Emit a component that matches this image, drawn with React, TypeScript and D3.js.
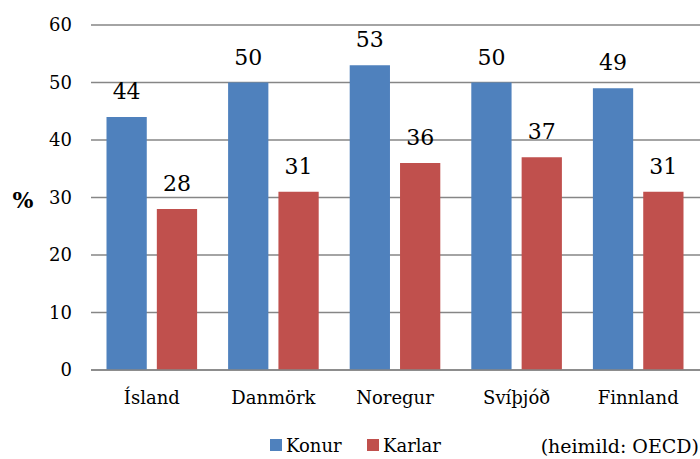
import { useEffect, useRef } from "react";
import * as d3 from "d3";

const countries = ["Ísland", "Danmörk", "Noregur", "Svíþjóð", "Finnland"];
const seriesNames = ["Konur", "Karlar"];
const konur = [44, 50, 53, 50, 49];
const karlar = [28, 31, 36, 37, 31];
const yTicks = [0, 10, 20, 30, 40, 50, 60];
const colors = ["#4F81BD", "#C0504D"];

const W = 700;
const H = 459;
const FONT = "'DejaVu Serif', serif";

export default function App() {
  const svgRef = useRef<SVGSVGElement>(null);

  useEffect(() => {
    const svg = d3.select(svgRef.current);
    svg.selectAll("*").remove();

    const left = 91;
    const right = 699;
    const top = 25;
    const bottom = 370;

    const x0 = d3.scaleBand().domain(countries).range([left, right]);
    const x1 = d3
      .scaleBand()
      .domain(seriesNames)
      .range([15.5, x0.bandwidth() - 15.5])
      .paddingInner(0.2);
    const y = d3.scaleLinear().domain([0, 60]).range([bottom, top]);

    // gridlines
    svg
      .append("g")
      .selectAll("line")
      .data(yTicks)
      .join("line")
      .attr("x1", left)
      .attr("x2", right + 1)
      .attr("y1", (d) => y(d))
      .attr("y2", (d) => y(d))
      .attr("stroke", "#868686")
      .attr("stroke-width", 1.5);

    // y tick labels
    svg
      .append("g")
      .selectAll("text")
      .data(yTicks)
      .join("text")
      .attr("x", 72)
      .attr("y", (d) => y(d))
      .attr("dy", "0.36em")
      .attr("text-anchor", "end")
      .attr("font-family", FONT)
      .attr("font-size", 18)
      .attr("fill", "#000")
      .text((d) => d);

    svg
      .append("text")
      .attr("x", 23)
      .attr("y", 208)
      .attr("text-anchor", "middle")
      .attr("font-family", FONT)
      .attr("font-weight", "bold")
      .attr("font-size", 22)
      .text("%");

    const rows = countries.map((c, i) => ({
      country: c,
      vals: [konur[i], karlar[i]],
    }));

    const groups = svg
      .append("g")
      .selectAll("g")
      .data(rows)
      .join("g")
      .attr("transform", (d) => `translate(${x0(d.country)},0)`);

    groups
      .selectAll("rect")
      .data((d) => d.vals.map((v, j) => ({ key: seriesNames[j], v, j })))
      .join("rect")
      .attr("x", (d) => x1(d.key)!)
      .attr("width", x1.bandwidth())
      .attr("y", (d) => y(d.v))
      .attr("height", (d) => y(0) - y(d.v))
      .attr("fill", (d) => colors[d.j]);

    groups
      .selectAll("text")
      .data((d) => d.vals.map((v, j) => ({ key: seriesNames[j], v })))
      .join("text")
      .attr("x", (d) => x1(d.key)! + x1.bandwidth() / 2)
      .attr("y", (d) => y(d.v) - 18)
      .attr("text-anchor", "middle")
      .attr("font-family", FONT)
      .attr("font-size", 22)
      .text((d) => d.v);

    // redraw the base line over the bars
    svg
      .append("line")
      .attr("x1", left)
      .attr("x2", right + 1)
      .attr("y1", y(0))
      .attr("y2", y(0))
      .attr("stroke", "#868686")
      .attr("stroke-width", 1.5);

    // category labels
    svg
      .append("g")
      .selectAll("text")
      .data(countries)
      .join("text")
      .attr("x", (d) => x0(d)! + x0.bandwidth() / 2)
      .attr("y", 404)
      .attr("text-anchor", "middle")
      .attr("font-family", FONT)
      .attr("font-size", 18)
      .text((d) => d);

    // legend
    const legendX = [270, 367];
    const legend = svg
      .append("g")
      .selectAll("g")
      .data(seriesNames)
      .join("g")
      .attr("transform", (d, i) => `translate(${legendX[i]},439)`);
    legend
      .append("rect")
      .attr("width", 12)
      .attr("height", 12)
      .attr("fill", (d, i) => colors[i]);
    legend
      .append("text")
      .attr("x", 16)
      .attr("y", 13)
      .attr("font-family", FONT)
      .attr("font-size", 18)
      .text((d) => d);

    svg
      .append("text")
      .attr("x", 699)
      .attr("y", 453)
      .attr("text-anchor", "end")
      .attr("font-family", FONT)
      .attr("font-size", 19)
      .text("(heimild: OECD)");
  }, []);

  return (
    <svg
      ref={svgRef}
      width={W}
      height={H}
      style={{ position: "absolute", left: 0, top: 0, background: "#fff" }}
    />
  );
}
